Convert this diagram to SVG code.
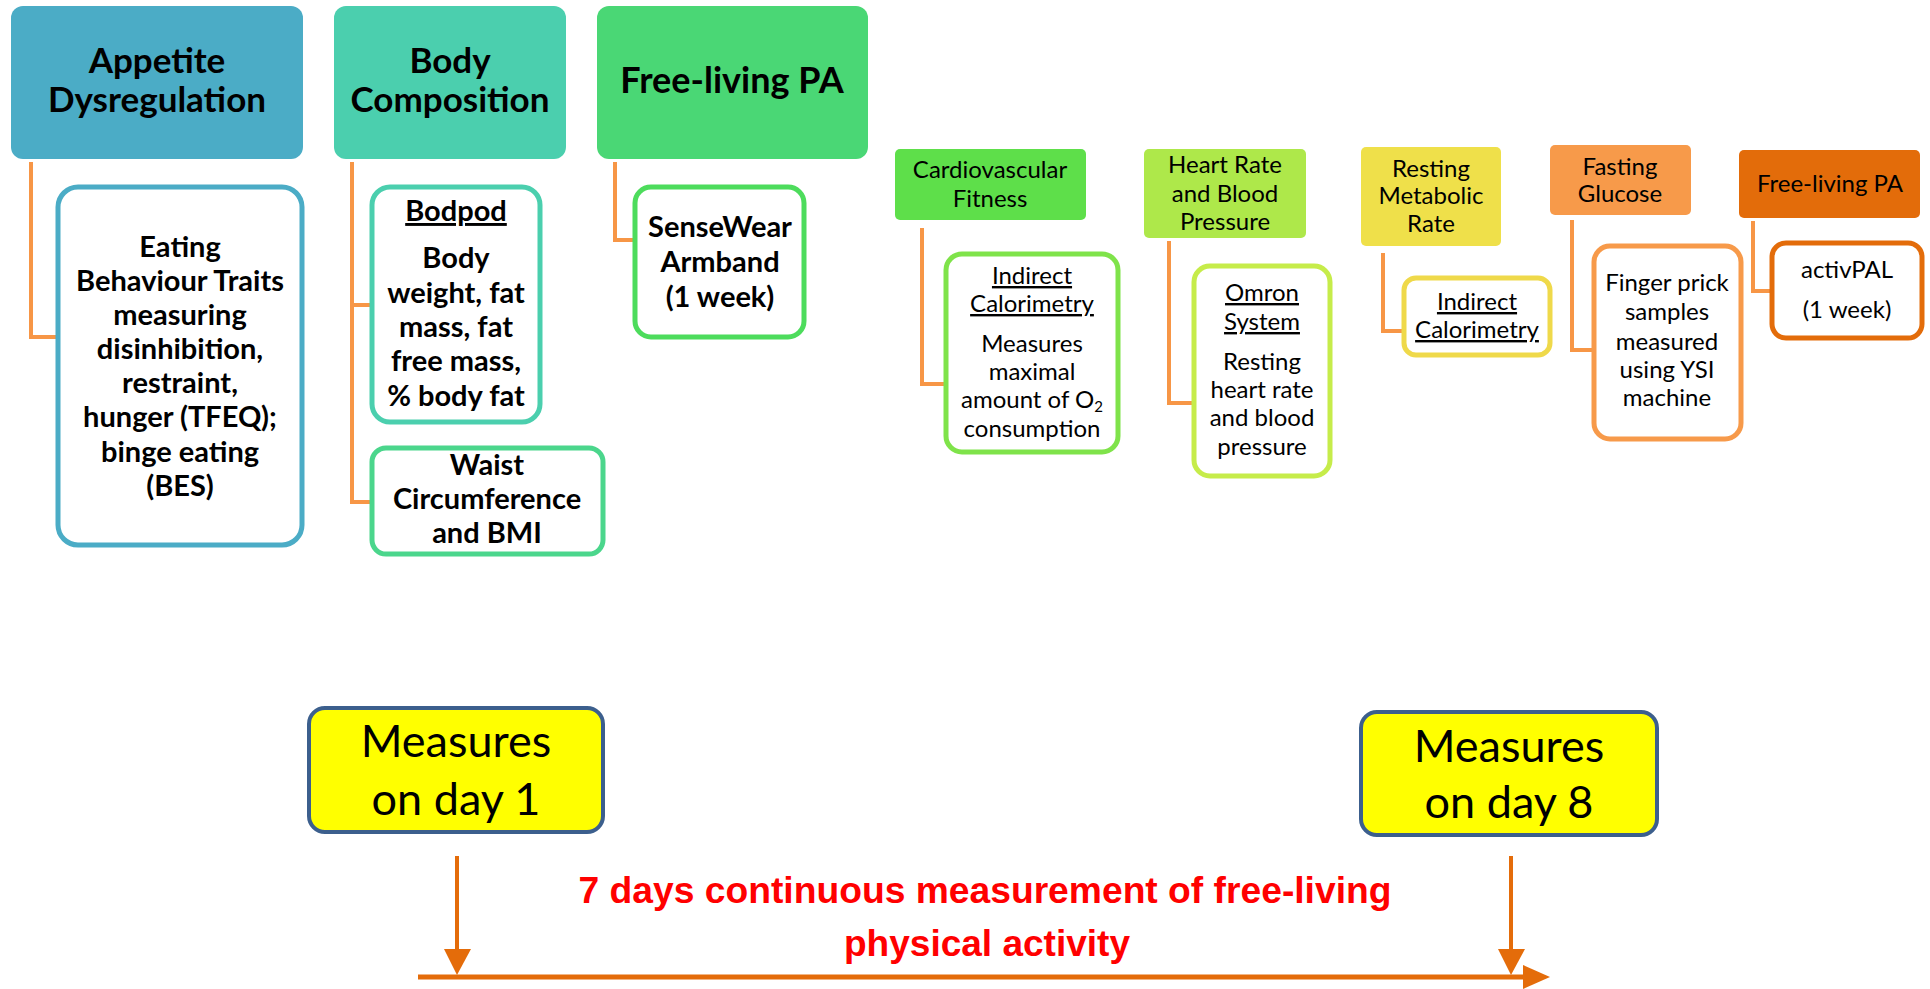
<svg xmlns="http://www.w3.org/2000/svg" width="1930" height="989" viewBox="0 0 1930 989">
<style>
.hb{font-family:Lato,"Liberation Sans",sans-serif;font-weight:700;font-size:35px;fill:#000;text-anchor:middle}
.hb2{font-family:Lato,"Liberation Sans",sans-serif;font-weight:700;font-size:36px;fill:#000;text-anchor:middle}
.db{font-family:Lato,"Liberation Sans",sans-serif;font-weight:700;font-size:29px;fill:#000;text-anchor:middle}
.r{font-family:Lato,"Liberation Sans",sans-serif;font-size:24px;fill:#000;text-anchor:middle}
.m{font-family:Lato,"Liberation Sans",sans-serif;font-size:45px;fill:#000;text-anchor:middle}
.red{font-family:"Liberation Sans",Arial,sans-serif;font-weight:700;font-size:36px;fill:#FF0000;text-anchor:middle}
.u{text-decoration:underline}
.box{fill:#fff;stroke-width:5}
.conn{fill:none;stroke:#F79646;stroke-width:4}
.meas{fill:#FFFF00;stroke:#3C5F8D;stroke-width:4}
</style>
<g id="connectors">
<path class="conn" d="M31,162 V337 H57"/>
<path class="conn" d="M352,162 V502 H371 M352,305 H371"/>
<path class="conn" d="M615,162 V240 H634"/>
<path class="conn" d="M922,228 V384 H945"/>
<path class="conn" d="M1169,241 V403 H1193"/>
<path class="conn" d="M1383,253 V331 H1403"/>
<path class="conn" d="M1572,220 V350 H1593"/>
<path class="conn" d="M1753,221 V291 H1771"/>
<g id="timeline" fill="#E46C0A" stroke="#E46C0A">
<line x1="457" y1="856" x2="457" y2="950" stroke-width="4"/>
<polygon points="444,949 471,949 457,975" stroke="none"/>
<line x1="1511" y1="856" x2="1511" y2="950" stroke-width="4"/>
<polygon points="1498,949 1525,949 1511,975" stroke="none"/>
<line x1="418" y1="977" x2="1526" y2="977" stroke-width="5"/>
<polygon points="1523,965 1550,977 1523,989" stroke="none"/>
</g>
</g>
<g id="appetite">
<rect x="11" y="6" width="292" height="153" rx="12" fill="#4BACC6"/>
<text class="hb" x="157" y="73">Appetite</text>
<text class="hb" x="157" y="112">Dysregulation</text>
</g>
<g id="appetite-detail">
<rect class="box" x="58" y="187" width="244" height="358" rx="20" stroke="#4BACC6"/>
<text class="db" x="180" y="257">Eating</text>
<text class="db" x="180" y="291">Behaviour Traits</text>
<text class="db" x="180" y="325">measuring</text>
<text class="db" x="180" y="359">disinhibition,</text>
<text class="db" x="180" y="393">restraint,</text>
<text class="db" x="180" y="427">hunger (TFEQ);</text>
<text class="db" x="180" y="462">binge eating</text>
<text class="db" x="180" y="496">(BES)</text>
</g>
<g id="body">
<rect x="334" y="6" width="232" height="153" rx="12" fill="#4BCFAE"/>
<text class="hb" x="450" y="73">Body</text>
<text class="hb" x="450" y="112">Composition</text>
</g>
<g id="bodpod">
<rect class="box" x="372" y="187" width="168" height="235" rx="18" stroke="#4BCFAE"/>
<text class="db u" x="456" y="221">Bodpod</text>
<text class="db" x="456" y="268">Body</text>
<text class="db" x="456" y="303">weight, fat</text>
<text class="db" x="456" y="337">mass, fat</text>
<text class="db" x="456" y="371">free mass,</text>
<text class="db" x="456" y="406">% body fat</text>
</g>
<g id="waist">
<rect class="box" x="372" y="448" width="231" height="106" rx="14" stroke="#4BD68C"/>
<text class="db" x="487" y="475">Waist</text>
<text class="db" x="487" y="509">Circumference</text>
<text class="db" x="487" y="543">and BMI</text>
</g>
<g id="freepa">
<rect x="597" y="6" width="271" height="153" rx="12" fill="#4AD775"/>
<text class="hb2" x="732" y="93">Free-living PA</text>
</g>
<g id="sensewear">
<rect class="box" x="635" y="187" width="169" height="150" rx="16" stroke="#4DDC5C"/>
<text class="db" x="720" y="237">SenseWear</text>
<text class="db" x="720" y="272">Armband</text>
<text class="db" x="720" y="307">(1 week)</text>
</g>
<g id="cardio">
<rect x="895" y="149" width="191" height="71" rx="5" fill="#5EDF4A"/>
<text class="r" x="990" y="178">Cardiovascular</text>
<text class="r" x="990" y="207">Fitness</text>
</g>
<g id="cardio-detail">
<rect class="box" x="946" y="254" width="172" height="198" rx="16" stroke="#7FE34A"/>
<text class="r u" x="1032" y="284">Indirect</text>
<text class="r u" x="1032" y="312">Calorimetry</text>
<text class="r" x="1032" y="352">Measures</text>
<text class="r" x="1032" y="380">maximal</text>
<text class="r" x="1032" y="408">amount of O<tspan font-size="15" dy="4">2</tspan></text>
<text class="r" x="1032" y="437">consumption</text>
</g>
<g id="heart">
<rect x="1144" y="149" width="162" height="89" rx="5" fill="#AEE84A"/>
<text class="r" x="1225" y="173">Heart Rate</text>
<text class="r" x="1225" y="202">and Blood</text>
<text class="r" x="1225" y="230">Pressure</text>
</g>
<g id="omron">
<rect class="box" x="1194" y="266" width="136" height="210" rx="16" stroke="#C6EC4A"/>
<text class="r u" x="1262" y="301">Omron</text>
<text class="r u" x="1262" y="330">System</text>
<text class="r" x="1262" y="370">Resting</text>
<text class="r" x="1262" y="398">heart rate</text>
<text class="r" x="1262" y="426">and blood</text>
<text class="r" x="1262" y="455">pressure</text>
</g>
<g id="resting">
<rect x="1361" y="147" width="140" height="99" rx="5" fill="#EFE04A"/>
<text class="r" x="1431" y="177">Resting</text>
<text class="r" x="1431" y="204">Metabolic</text>
<text class="r" x="1431" y="232">Rate</text>
</g>
<g id="resting-detail">
<rect class="box" x="1404" y="278" width="146" height="77" rx="12" stroke="#EFD94A"/>
<text class="r u" x="1477" y="310">Indirect</text>
<text class="r u" x="1477" y="338">Calorimetry</text>
</g>
<g id="fasting">
<rect x="1550" y="145" width="141" height="70" rx="5" fill="#F79A4A"/>
<text class="r" x="1620" y="175">Fasting</text>
<text class="r" x="1620" y="202">Glucose</text>
</g>
<g id="finger">
<rect class="box" x="1594" y="246" width="147" height="193" rx="16" stroke="#F79A4A"/>
<text class="r" x="1667" y="291">Finger prick</text>
<text class="r" x="1667" y="320">samples</text>
<text class="r" x="1667" y="350">measured</text>
<text class="r" x="1667" y="378">using YSI</text>
<text class="r" x="1667" y="406">machine</text>
</g>
<g id="freepa2">
<rect x="1739" y="150" width="181" height="68" rx="5" fill="#E36C0A"/>
<text class="r" x="1830" y="192">Free-living PA</text>
</g>
<g id="activpal">
<rect class="box" x="1772" y="243" width="150" height="95" rx="14" stroke="#E36C0A"/>
<text class="r" x="1847" y="278">activPAL</text>
<text class="r" x="1847" y="318">(1 week)</text>
</g>
<g id="day1">
<rect class="meas" x="309" y="708" width="294" height="124" rx="16"/>
<text class="m" x="456" y="757">Measures</text>
<text class="m" x="456" y="815">on day 1</text>
</g>
<g id="day8">
<rect class="meas" x="1361" y="712" width="296" height="123" rx="16"/>
<text class="m" x="1509" y="762">Measures</text>
<text class="m" x="1509" y="818">on day 8</text>
</g>
<g id="label">
<text class="red" x="985" y="903" textLength="813" lengthAdjust="spacingAndGlyphs">7 days continuous measurement of free-living</text>
<text class="red" x="987" y="956" textLength="286" lengthAdjust="spacingAndGlyphs">physical activity</text>
</g>
</svg>
